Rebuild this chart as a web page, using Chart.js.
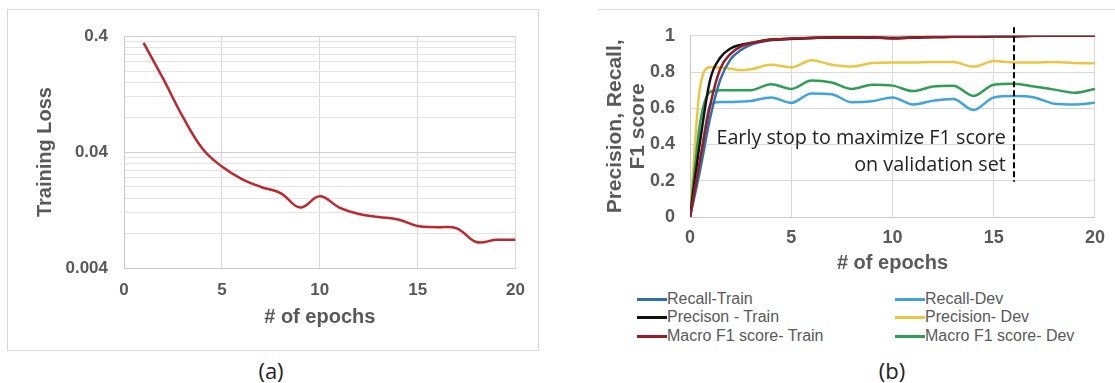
<!DOCTYPE html>
<html>
<head>
<meta charset="utf-8">
<script src="https://cdn.jsdelivr.net/npm/chart.js@4.4.0/dist/chart.umd.min.js"></script>
<style>
body { margin:0; width:1115px; height:383px; background:#fff; position:relative; overflow:hidden; font-family:"Liberation Sans", Arial, sans-serif; }
#frameA { position:absolute; left:7px; top:9px; width:532px; height:342px; box-sizing:border-box; border:1px solid #d9d9d9; }
#lineB { position:absolute; left:598px; top:9px; width:517px; border-top:1px solid #d9d9d9; }
#wrapA { position:absolute; left:8px; top:10px; width:529px; height:339px; }
#wrapB { position:absolute; left:580px; top:10px; width:535px; height:270px; }
.cap { position:absolute; font-family:"Open Sans", sans-serif; font-size:22px; color:#222; transform:translate(-50%,-50%); }
.item { position:absolute; height:18px; line-height:18px; font-size:16px; color:#595959; white-space:nowrap; }
.swatch { display:inline-block; width:30px; height:3px; vertical-align:middle; }
</style>
</head>
<body>
<div id="frameA"></div>
<div id="lineB"></div>
<div id="wrapA"><canvas id="chartA" width="529" height="339"></canvas></div>
<div id="wrapB"><canvas id="chartB" width="535" height="270"></canvas></div>
<div class="cap" style="left:271px; top:370px;">(a)</div>
<div class="cap" style="left:892px; top:370px;">(b)</div>
<div id="legend"></div>
<script>
// (a) training loss, log scale
const epochsA = [1, 2, 3, 4, 5, 6, 7, 8, 9, 10, 11, 12, 13, 14, 15, 16, 17, 18, 19, 20];
const trainingLoss = [0.35, 0.172, 0.081, 0.043, 0.030, 0.0235, 0.020, 0.0177, 0.0133, 0.0166,
                      0.0133, 0.0117, 0.011, 0.0105, 0.0092, 0.009, 0.0088, 0.0067, 0.0070, 0.0070];
const lossTicks = [0.004, 0.04, 0.4];

// (b) precision / recall / F1
const epochsB = [0, 0.5, 1, 1.5, 2, 2.5, 3, 4, 5, 6, 7, 8, 9, 10, 11, 12, 13, 14, 15, 16, 17, 18, 19, 20];
const recallTrain    = [0, 0.26, 0.55, 0.76, 0.87, 0.92, 0.95, 0.975, 0.983, 0.988, 0.99, 0.99, 0.99, 0.988, 0.99, 0.993, 0.995, 0.995, 0.997, 0.998, 1, 1, 1, 1];
const precisionTrain = [0, 0.42, 0.76, 0.88, 0.93, 0.95, 0.96, 0.979, 0.984, 0.988, 0.99, 0.99, 0.99, 0.988, 0.99, 0.993, 0.995, 0.995, 0.997, 0.998, 1, 1, 1, 1];
const f1Train        = [0, 0.32, 0.62, 0.82, 0.90, 0.94, 0.96, 0.978, 0.985, 0.988, 0.99, 0.99, 0.99, 0.985, 0.99, 0.993, 0.995, 0.995, 0.997, 0.998, 1, 1, 1, 1];
const recallDev      = [0, 0.30, 0.62, 0.635, 0.635, 0.637, 0.64, 0.66, 0.63, 0.682, 0.677, 0.633, 0.639, 0.66, 0.621, 0.642, 0.651, 0.59, 0.66, 0.668, 0.66, 0.625, 0.621, 0.63];
const precisionDev   = [0, 0.72, 0.826, 0.825, 0.818, 0.81, 0.815, 0.84, 0.826, 0.865, 0.84, 0.83, 0.85, 0.853, 0.853, 0.856, 0.855, 0.83, 0.861, 0.853, 0.853, 0.856, 0.85, 0.849];
const f1Dev          = [0, 0.52, 0.69, 0.70, 0.70, 0.70, 0.70, 0.733, 0.707, 0.753, 0.742, 0.707, 0.73, 0.725, 0.695, 0.72, 0.725, 0.668, 0.73, 0.735, 0.72, 0.703, 0.686, 0.707];
const scoreTicks = [0, 0.2, 0.4, 0.6, 0.8, 1];
const stopEpoch = 16;
const noteLines = ['Early stop to maximize F1 score', 'on validation set'];

const grey = '#595959';
const fam = '"Liberation Sans", Arial, sans-serif';

function pts(xs, ys) { return xs.map((x, i) => ({x: x, y: ys[i]})); }

// chart (a)
const lossGrid = lossTicks.slice(0, -1).flatMap(d => [1,2,3,4,5,6,7,8,9].map(k => d * k)).concat(lossTicks[lossTicks.length - 1]);
function isMajor(v) { return lossTicks.some(t => Math.abs(t - v) / t < 1e-6); }

new Chart(document.getElementById('chartA'), {
    type: 'line',
    data: { datasets: [{
        label: 'Training Loss',
        data: pts(epochsA, trainingLoss),
        borderColor: '#c0272d', borderWidth: 2.5, pointRadius: 0,
        tension: 0.4, fill: false
    }]},
    options: {
        responsive: false, animation: false,
        layout: { padding: { top: 16, right: 21, left: 0, bottom: 0 } },
        plugins: { legend: { display: false }, tooltip: { enabled: false } },
        scales: {
            x: {
                type: 'linear', min: 0, max: 20,
                ticks: { stepSize: 5, padding: 12, color: grey, font: { family: fam, size: 17, weight: 'bold' } },
                grid: { color: '#d9d9d9', drawTicks: false },
                border: { color: '#c8c8c8' },
                title: { display: true, text: '# of epochs', color: grey, font: { family: fam, size: 20, weight: 'bold' }, padding: { top: 0, bottom: 20 } },
                afterFit: s => { s.height = 81; }
            },
            y: {
                type: 'logarithmic', min: lossTicks[0], max: lossTicks[lossTicks.length - 1],
                afterBuildTicks: s => { s.ticks = lossGrid.map(v => ({ value: v })); },
                ticks: {
                    autoSkip: false, padding: 16, color: grey,
                    font: { family: fam, size: 17, weight: 'bold' },
                    callback: v => { const t = lossTicks.find(t => Math.abs(t - v) / t < 1e-6); return t === undefined ? '' : String(t); }
                },
                grid: { drawTicks: false, color: c => isMajor(c.tick.value) ? '#d0d0d0' : '#e4e4e4' },
                border: { color: '#c8c8c8' },
                title: { display: true, text: 'Training Loss', color: grey, font: { family: fam, size: 20, weight: 'bold' }, padding: { top: 25, bottom: 0 } },
                afterFit: s => { s.width = 116; }
            }
        }
    }
});

// chart (b)
const seriesB = [
    { name: 'Recall-Train',          values: recallTrain,    color: '#2e6fb0', order: 2 },
    { name: 'Precison - Train',      values: precisionTrain, color: '#111111', order: 1 },
    { name: 'Macro F1 score- Train', values: f1Train,        color: '#9b1c20', order: 0 },
    { name: 'Recall-Dev',            values: recallDev,      color: '#3fa3e0', order: 5 },
    { name: 'Precision- Dev',        values: precisionDev,   color: '#ecc542', order: 4 },
    { name: 'Macro F1 score- Dev',   values: f1Dev,          color: '#2f9e55', order: 3 }
];

const stopLine = {
    id: 'stopLine',
    afterDatasetsDraw(chart) {
        const ctx = chart.ctx, xs = chart.scales.x, ys = chart.scales.y;
        const x = xs.getPixelForValue(stopEpoch);
        ctx.save();
        ctx.strokeStyle = '#000';
        ctx.lineWidth = 2;
        ctx.setLineDash([6, 3]);
        ctx.beginPath();
        ctx.moveTo(x, ys.getPixelForValue(1.047));
        ctx.lineTo(x, ys.getPixelForValue(0.195));
        ctx.stroke();
        ctx.setLineDash([]);
        // note text, right aligned just left of the stop line
        const left = xs.getPixelForValue(1.3), right = xs.getPixelForValue(15.6);
        ctx.font = '20px "Open Sans", sans-serif';
        const size = 20 * (right - left) / ctx.measureText(noteLines[0]).width;
        ctx.font = size.toFixed(2) + 'px "Open Sans", sans-serif';
        ctx.fillStyle = '#222';
        ctx.textAlign = 'right';
        ctx.textBaseline = 'middle';
        ctx.fillText(noteLines[0], right, ys.getPixelForValue(0.432));
        ctx.fillText(noteLines[1], right, ys.getPixelForValue(0.284));
        ctx.restore();
    }
};

new Chart(document.getElementById('chartB'), {
    type: 'line',
    data: { datasets: seriesB.map(s => ({
        label: s.name, data: pts(epochsB, s.values),
        borderColor: s.color, borderWidth: 2.5, pointRadius: 0, order: s.order,
        cubicInterpolationMode: 'monotone', fill: false
    }))},
    options: {
        responsive: false, animation: false,
        layout: { padding: { top: 17, right: 12, left: 0, bottom: 0 } },
        plugins: { legend: { display: false }, tooltip: { enabled: false } },
        scales: {
            x: {
                type: 'linear', min: 0, max: 20,
                ticks: { stepSize: 5, padding: 10, color: grey, font: { family: fam, size: 18, weight: 'bold' } },
                grid: { color: '#d9d9d9', drawTicks: false },
                border: { color: '#c8c8c8' },
                title: { display: true, text: '# of epochs', color: grey, font: { family: fam, size: 20, weight: 'bold' }, padding: { top: 0, bottom: 5 } },
                afterFit: s => { s.height = 63; }
            },
            y: {
                type: 'linear', min: 0, max: 1,
                afterBuildTicks: s => { s.ticks = scoreTicks.map(v => ({ value: v })); },
                ticks: { padding: 15, color: grey, font: { family: fam, size: 18, weight: 'bold' }, callback: v => String(v) },
                grid: { color: '#d9d9d9', drawTicks: false },
                border: { color: '#c8c8c8' },
                title: { display: true, text: ['Precision, Recall,', 'F1 score'], color: grey, font: { family: fam, size: 21, weight: 'bold', lineHeight: 1.1 }, padding: { top: 23.5, bottom: 0 } },
                afterFit: s => { s.width = 110; }
            }
        }
    },
    plugins: [stopLine]
});

// legend, two columns of three
const legend = document.getElementById('legend');
const colX = [637, 895], rowY = [299, 317, 336];
seriesB.forEach((s, i) => {
    const el = document.createElement('div');
    el.className = 'item';
    el.style.left = colX[Math.floor(i / 3)] + 'px';
    el.style.top = (rowY[i % 3] - 9) + 'px';
    el.innerHTML = '<span class="swatch" style="background:' + s.color + '"></span>' + s.name;
    legend.appendChild(el);
});
</script>
</body>
</html>
